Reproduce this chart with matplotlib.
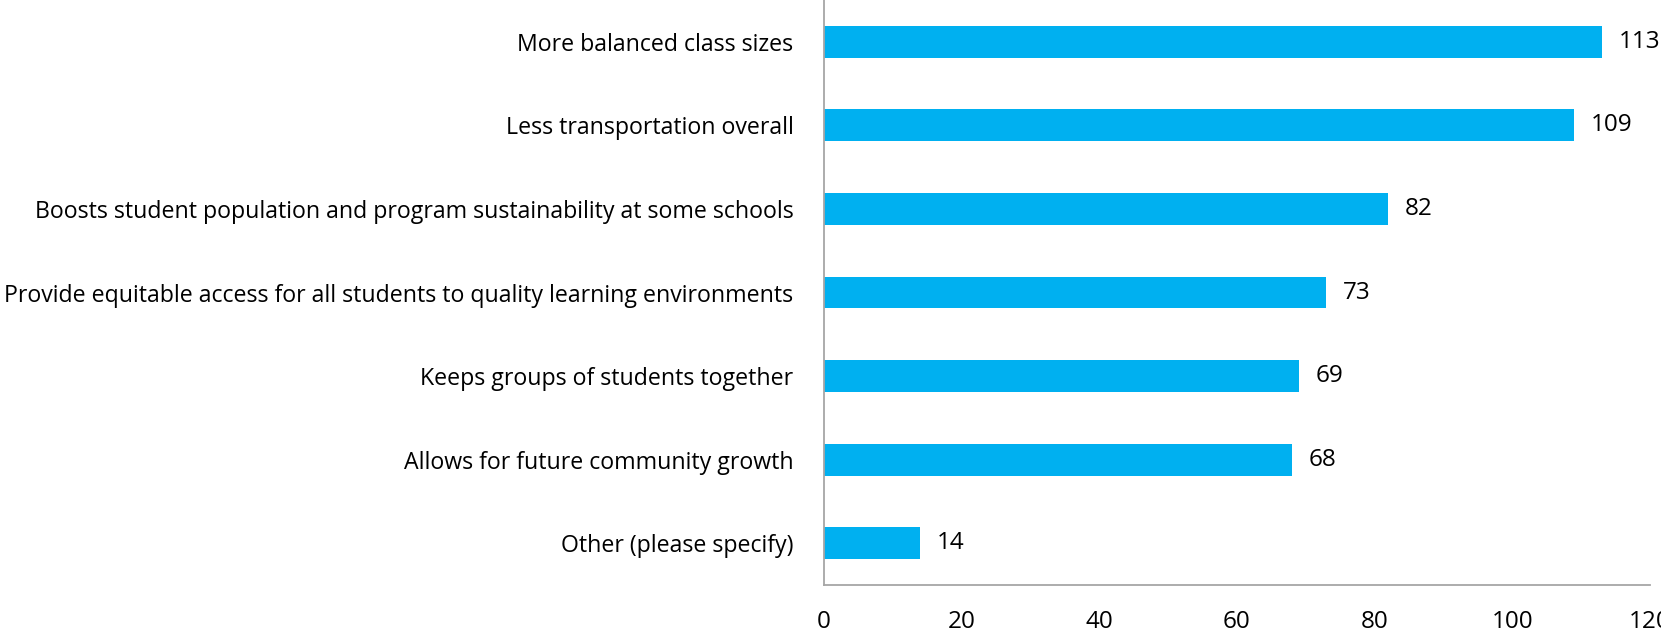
import matplotlib
matplotlib.use("Agg")
import matplotlib.pyplot as plt

categories = [
    "More balanced class sizes",
    "Less transportation overall",
    "Boosts student population and program sustainability at some schools",
    "Provide equitable access for all students to quality learning environments",
    "Keeps groups of students together",
    "Allows for future community growth",
    "Other (please specify)",
]
values = [113, 109, 82, 73, 69, 68, 14]
xticks = [0, 20, 40, 60, 80, 100, 120]

plt.rcParams['font.family'] = ['Open Sans', 'DejaVu Sans']

fig = plt.figure(figsize=(16.61, 6.32), dpi=100)
ax = fig.add_axes([824/1661, 47/632, (1650-824)/1661, 585/632])

ypos = list(range(len(categories)))
ax.barh(ypos, values, height=0.38, color="#00B0F0", zorder=2)
ax.set_ylim(len(categories) - 0.5, -0.5)
ax.set_xlim(0, 120)
ax.set_yticks(ypos)
ax.set_yticklabels(categories, fontsize=16.7)
ax.set_xticks(xticks)
ax.set_xticklabels([str(t) for t in xticks], fontsize=17.5)
ax.tick_params(axis='y', length=0, pad=22)
ax.tick_params(axis='x', length=0, pad=18)

for s in ['top', 'right']:
    ax.spines[s].set_visible(False)
for s in ['left', 'bottom']:
    ax.spines[s].set_color("#A6A6A6")
    ax.spines[s].set_linewidth(1.3)

for y, v in zip(ypos, values):
    ax.text(v + 2.4, y, str(v), va='center', ha='left', fontsize=17.5)

fig.savefig("out.png", dpi=100)
